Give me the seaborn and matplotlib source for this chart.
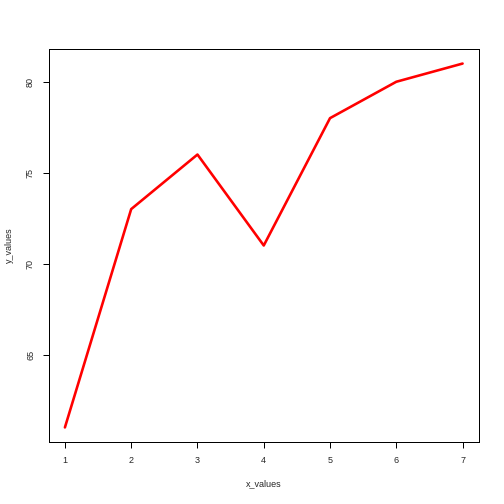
import matplotlib
matplotlib.use("Agg")
import matplotlib.pyplot as plt
import seaborn as sns
import pandas as pd

x_values = [1, 2, 3, 4, 5, 6, 7]
y_values = [61, 73, 76, 71, 78, 80, 81]
x_ticks = [1, 2, 3, 4, 5, 6, 7]
y_ticks = [65, 70, 75, 80]

sns.set_style("white")
plt.rcParams['font.family'] = ['Liberation Sans', 'DejaVu Sans']

df = pd.DataFrame({"x_values": x_values, "y_values": y_values})

fig = plt.figure(figsize=(7, 7), dpi=72)
ax = fig.add_axes([49/504, 62/504, 429.5/504, 393/504])
sns.lineplot(data=df, x="x_values", y="y_values", color="#ff0000", linewidth=2.6, ax=ax)

ax.set_xlim(0.76, 7.24)
ax.set_ylim(60.2, 81.8)
ax.set_xticks(x_ticks)
ax.set_yticks(y_ticks)
ax.set_xticklabels([str(t) for t in x_ticks], fontsize=9)
ax.set_yticklabels([str(t) for t in y_ticks], fontsize=9, rotation=90, va="center")
ax.tick_params(axis="both", which="both", direction="out", length=6, width=1, color="black", pad=8, left=True, bottom=True)
for s in ax.spines.values():
    s.set_color("black")
    s.set_linewidth(1)
ax.set_xlabel("x_values", fontsize=9, labelpad=14)
ax.set_ylabel("y_values", fontsize=9, labelpad=12)

fig.savefig("out.png", dpi=72, facecolor="white")
